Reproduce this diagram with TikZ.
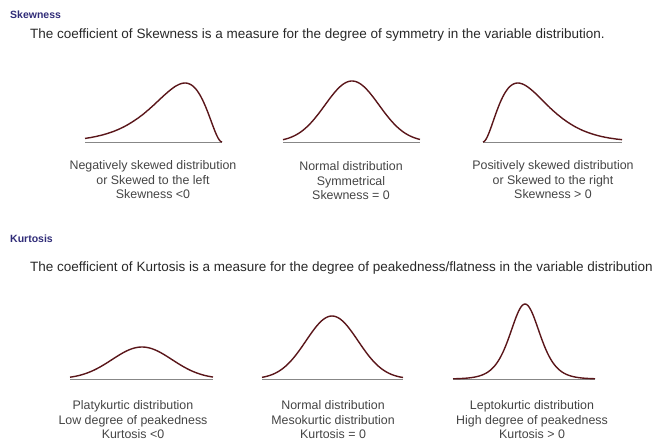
\documentclass[tikz,border=0pt]{standalone}
\usepackage{fontspec}
\setmainfont{Liberation Sans}
\definecolor{hdB}{RGB}{48,44,120}
\definecolor{crvR}{RGB}{90,22,26}
\definecolor{axG}{RGB}{135,135,135}
\definecolor{txG}{RGB}{68,68,68}
\definecolor{txD}{RGB}{40,40,40}
\newcommand{\BS}{142}
\newcommand{\BK}{379}
\newcommand{\base}[3]{%
  \draw[axline] (#1,#3) -- (#2,#3);}
\newcommand{\bell}[6]{% from, to, centre, spread, base, height
  \draw[crv] plot[domain=#1:#2, samples=90]
    (\x,{#5-#6*exp(-0.5*((\x-#3)/#4)*((\x-#3)/#4))});}
\newcommand{\peaky}[6]{%
  \draw[crv] plot[domain=#1:#2, samples=120]
    (\x,{#5-#6/(cosh((\x-#3)/#4)*cosh((\x-#3)/#4))});}
\newcommand{\skR}[5]{% from, to, scale, base, height
  \draw[crv] plot[domain=#1:#2, samples=100]
    (\x,{#4-1.847*#5*((\x-#1)/#3)*((\x-#1)/#3)*exp(-(\x-#1)/#3)});}
\newcommand{\skL}[5]{%
  \draw[crv] plot[domain=#1:#2, samples=100]
    (\x,{#4-1.847*#5*((#2-\x)/#3)*((#2-\x)/#3)*exp(-(#2-\x)/#3)});}

\begin{document}
\begin{tikzpicture}[
    x=1pt, y=-1pt,
    crv/.style={draw=crvR, line width=1.4pt, line join=round},
    axline/.style={draw=axG, line width=1pt},
    hdtxt/.style={font=\fontsize{10.5}{12}\selectfont\bfseries, text=hdB, anchor=west, inner sep=0pt},
    dsctxt/.style={font=\fontsize{13.5}{15}\selectfont, text=txD, anchor=west, inner sep=0pt},
    captxt/.style={font=\fontsize{12.4}{14.5}\selectfont, text=txG, align=center, inner sep=0pt},
  ]
  \useasboundingbox (0,0) rectangle (668,445);

  %% ================= Skewness =================
  \node[hdtxt] (hdSkew) at (10,15) {Skewness};
  \node[dsctxt] (txSkew) at (30,35)
    {The coefficient of Skewness is a measure for the degree of symmetry in the variable distribution.};

  %% ---- left: tail to the left ----
  \base{85}{222}{\BS}
  \skL{85}{222}{18.5}{\BS}{59}
  \node[captxt] (cpNeg) at (153,180)
    {Negatively skewed distribution\\or Skewed to the left\\Skewness <0};

  %% ---- middle: symmetric ----
  \base{283}{420}{\BS}
  \bell{283}{420}{352}{27}{\BS}{61}
  \node[captxt] (cpNorm) at (351,181)
    {Normal distribution\\Symmetrical\\Skewness = 0};

  %% ---- right: tail to the right ----
  \base{483}{622}{\BS}
  \skR{483}{622}{17.4}{\BS}{59}
  \node[captxt] (cpPos) at (553,180)
    {Positively skewed distribution\\or Skewed to the right\\Skewness > 0};

  %% ================= Kurtosis =================
  \node[hdtxt] (hdKurt) at (10,239) {Kurtosis};
  \node[dsctxt] (txKurt) at (30,268)
    {The coefficient of Kurtosis is a measure for the degree of peakedness/flatness in the variable distribution};

  %% ---- flat ----
  \base{70}{213}{\BK}
  \bell{70}{213}{142}{30}{\BK}{32}
  \node[captxt] (cpPlaty) at (133,420)
    {Platykurtic distribution\\Low degree of peakedness\\Kurtosis <0};

  %% ---- normal ----
  \base{262}{403}{\BK}
  \bell{262}{403}{332}{26}{\BK}{63}
  \node[captxt] (cpMeso) at (333,420)
    {Normal distribution\\Mesokurtic distribution\\Kurtosis = 0};

  %% ---- peaked ----
  \base{453}{595}{\BK}
  \peaky{453}{595}{525}{20}{\BK}{75}
  \node[captxt] (cpLepto) at (532,420)
    {Leptokurtic distribution\\High degree of peakedness\\Kurtosis > 0};

\end{tikzpicture}
\end{document}
